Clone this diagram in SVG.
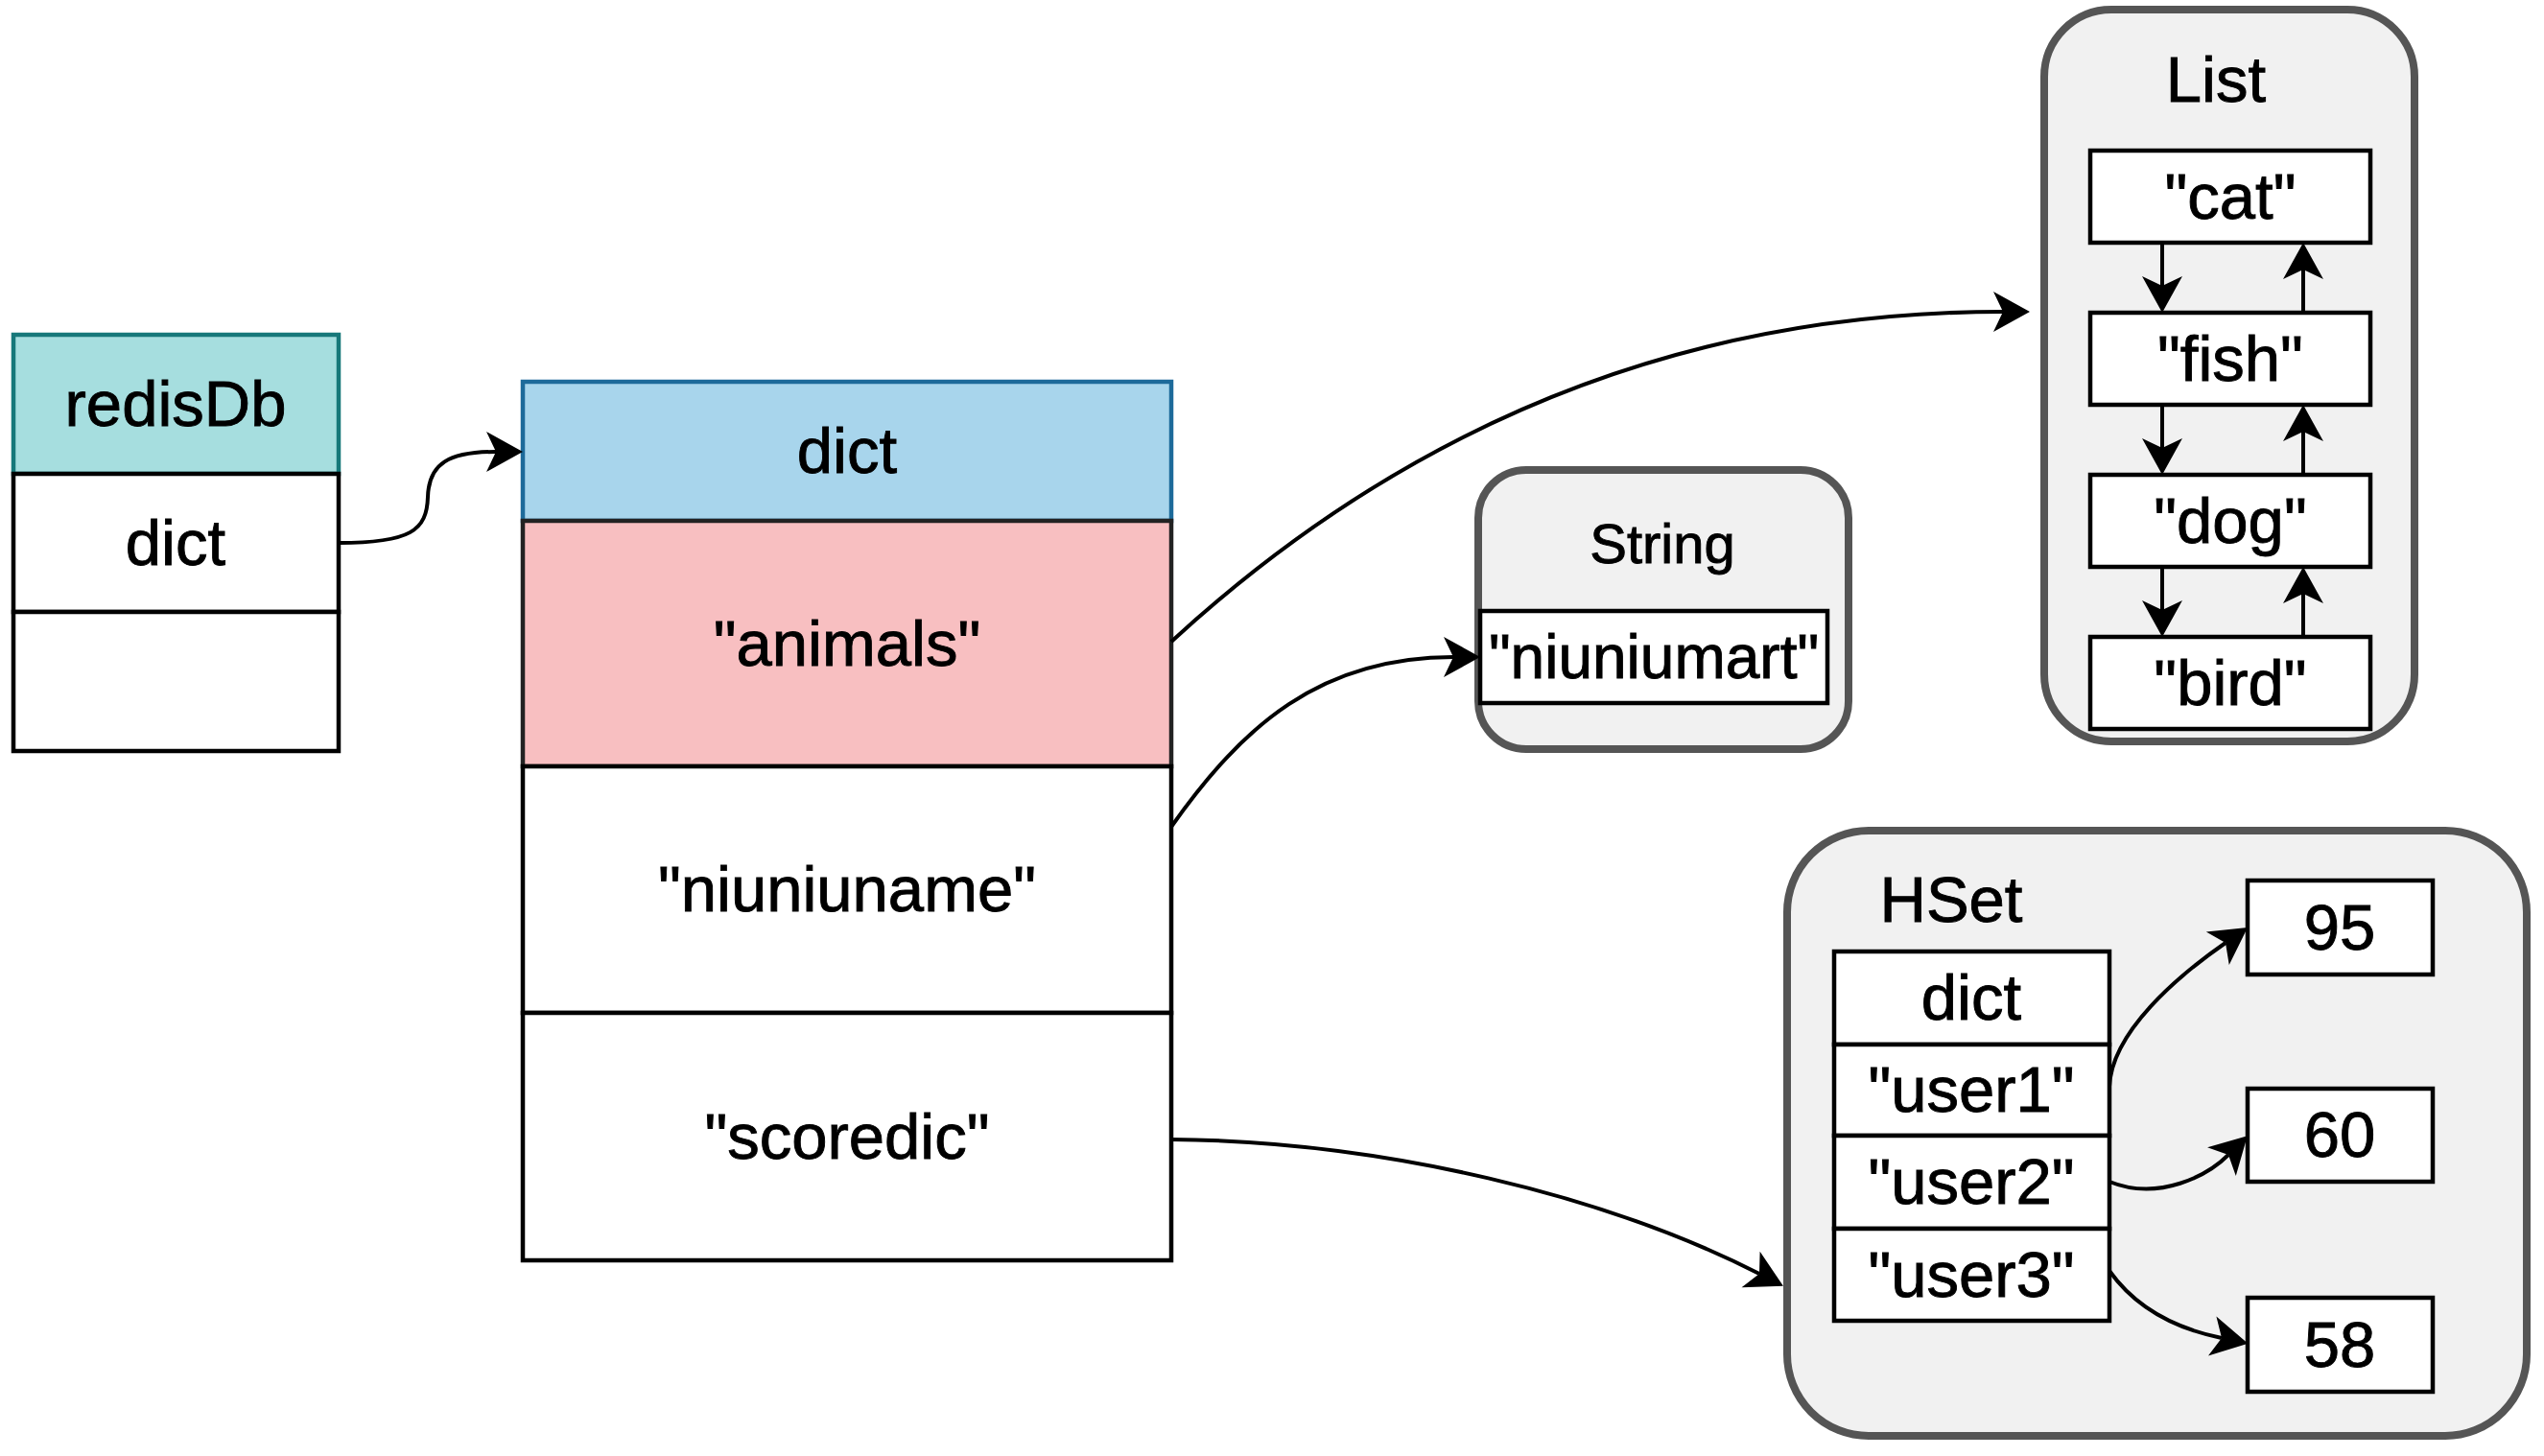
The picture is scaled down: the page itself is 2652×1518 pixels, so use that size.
<svg xmlns="http://www.w3.org/2000/svg" width="2652" height="1518" viewBox="0 0 2652 1518">
<style>
text{font-family:"Liberation Sans",Arial,sans-serif;fill:#000;stroke:#000;stroke-width:0.9;text-anchor:middle}
.t{font-size:67px}
.box{fill:#fff;stroke:#000;stroke-width:4.5}
.cont{fill:#f1f1f1;stroke:#555;stroke-width:8}
.edge{fill:none;stroke:#000;stroke-width:4;marker-end:url(#arr)}
</style>
<defs>
<marker id="arr" markerUnits="userSpaceOnUse" markerWidth="40" markerHeight="44" refX="10" refY="21" orient="auto" overflow="visible">
<path d="M38,21 L0,0 L10,21 L0,42 Z" fill="#000"/>
</marker>
</defs>
<rect width="2652" height="1518" fill="#fff"/>

<g id="redisDb">
<rect x="14" y="349" width="339" height="145" fill="#a6dedf" stroke="#17787a" stroke-width="4.5"/>
<rect class="box" x="14" y="494" width="339" height="144"/>
<rect class="box" x="14" y="638" width="339" height="145"/>
<text class="t" x="183" y="444">redisDb</text>
<text class="t" x="183" y="589">dict</text>
</g>

<g id="dict">
<rect x="545" y="398" width="676" height="145" fill="#a8d5ec" stroke="#1d6a9a" stroke-width="4.5"/>
<rect x="545" y="543" width="676" height="256" fill="#f8bfc1" stroke="#222" stroke-width="4.5"/>
<rect class="box" x="545" y="799" width="676" height="257"/>
<rect class="box" x="545" y="1056" width="676" height="258"/>
<text class="t" x="883" y="493">dict</text>
<text class="t" x="883" y="694">"animals"</text>
<text class="t" x="883" y="950">"niuniuname"</text>
<text class="t" x="883" y="1208">"scoredic"</text>
</g>

<g id="String">
<rect class="cont" x="1541" y="490" width="386" height="291" rx="50" ry="50"/>
<text x="1733" y="587" style="font-size:58px">String</text>
<rect class="box" x="1543" y="637" width="362" height="96"/>
<text x="1724" y="707" style="font-size:64px">"niuniumart"</text>
</g>

<g id="List">
<rect class="cont" x="2131" y="10" width="386" height="763" rx="70" ry="70"/>
<text class="t" x="2310" y="106">List</text>
<rect class="box" x="2179" y="157" width="292" height="96"/>
<rect class="box" x="2179" y="326" width="292" height="96"/>
<rect class="box" x="2179" y="495" width="292" height="96"/>
<rect class="box" x="2179" y="664" width="292" height="96"/>
<text class="t" x="2325" y="228">"cat"</text>
<text class="t" x="2325" y="397">"fish"</text>
<text class="t" x="2325" y="566">"dog"</text>
<text class="t" x="2325" y="735">"bird"</text>
</g>

<g id="HSet">
<rect class="cont" x="1863" y="866" width="771" height="631" rx="85" ry="85"/>
<text class="t" x="2034" y="961">HSet</text>
<rect class="box" x="1912" y="992" width="287" height="97"/>
<rect class="box" x="1912" y="1089" width="287" height="95"/>
<rect class="box" x="1912" y="1184" width="287" height="97"/>
<rect class="box" x="1912" y="1281" width="287" height="96"/>
<text class="t" x="2055" y="1063">dict</text>
<text class="t" x="2055" y="1159">"user1"</text>
<text class="t" x="2055" y="1255">"user2"</text>
<text class="t" x="2055" y="1352">"user3"</text>
<rect class="box" x="2343" y="918" width="193" height="98"/>
<rect class="box" x="2343" y="1135" width="193" height="97"/>
<rect class="box" x="2343" y="1353" width="193" height="98"/>
<text class="t" x="2439" y="990">95</text>
<text class="t" x="2439" y="1206">60</text>
<text class="t" x="2439" y="1425">58</text>
</g>

<g id="connectors">
<path class="edge" d="M353,566 C428,566 445,553 446,518 C447,483 468,471 517,471"/>
<path class="edge" d="M1221,669 C1494,418 1793,325 2088,325"/>
<path class="edge" d="M1221,862 C1295,757 1376,685 1515,685"/>
<path class="edge" d="M1221,1188 C1444,1190 1675,1247 1834,1328"/>
<path class="edge" d="M2254,253 L2254,298"/>
<path class="edge" d="M2401,326 L2401,281"/>
<path class="edge" d="M2254,422 L2254,467"/>
<path class="edge" d="M2401,495 L2401,450"/>
<path class="edge" d="M2254,591 L2254,636"/>
<path class="edge" d="M2401,664 L2401,619"/>
<path class="edge" d="M2199,1133 C2201,1076 2271,1017 2320,983"/>
<path class="edge" d="M2199,1232 C2251,1253 2302,1225 2323,1204"/>
<path class="edge" d="M2199,1325 C2231,1370 2277,1387 2316,1395"/>
</g>
</svg>
